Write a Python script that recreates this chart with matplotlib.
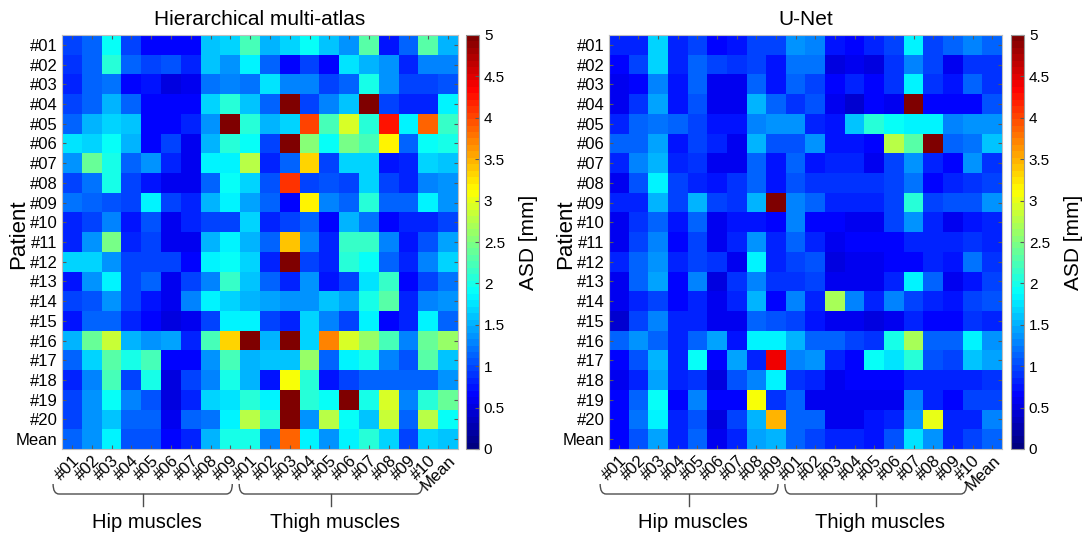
import numpy as np
import matplotlib
matplotlib.use('Agg')
import matplotlib.pyplot as plt
from matplotlib.colors import LinearSegmentedColormap
from matplotlib.path import Path
from matplotlib.patches import PathPatch
import matplotlib.transforms as mtransforms

plt.rcParams['font.family'] = ['Liberation Sans', 'DejaVu Sans']

# ---------------- data ----------------
patients = ['#%02d' % i for i in range(1, 21)] + ['Mean']
hip_muscles = ['#%02d' % i for i in range(1, 10)]
thigh_muscles = ['#%02d' % i for i in range(1, 11)]
muscle_labels = hip_muscles + thigh_muscles + ['Mean']

# ASD [mm], rows = patients #01..#20, Mean ; cols = hip #01..#09, thigh #01..#10, Mean
hma = [
    [1.00, 1.10, 1.95, 0.95, 0.70, 0.70, 0.70, 1.60, 1.65, 2.25, 1.55, 1.70, 1.95, 1.60, 1.35, 2.30, 0.75, 1.15, 2.30, 1.50],
    [0.90, 1.15, 2.10, 1.15, 1.00, 1.05, 0.80, 1.60, 1.40, 1.85, 1.15, 0.70, 1.00, 0.70, 1.75, 1.55, 1.35, 0.85, 1.25, 1.25],
    [0.80, 1.15, 1.20, 0.70, 0.75, 0.50, 0.55, 1.20, 1.30, 1.20, 1.75, 1.25, 1.25, 0.95, 1.15, 2.00, 1.40, 1.00, 1.00, 1.05],
    [0.95, 1.15, 1.50, 1.10, 0.70, 0.70, 0.70, 1.70, 2.05, 1.60, 1.10, 5.00, 0.95, 1.25, 1.60, 5.00, 0.95, 0.80, 0.85, 1.85],
    [1.10, 1.55, 1.70, 1.60, 0.70, 0.70, 0.80, 1.40, 5.00, 2.05, 1.50, 1.70, 4.05, 2.25, 2.90, 2.10, 4.25, 1.85, 3.85, 2.15],
    [1.75, 1.70, 1.90, 1.50, 0.70, 0.95, 0.60, 1.55, 2.05, 1.95, 0.95, 5.00, 2.50, 1.90, 2.45, 2.20, 3.20, 1.15, 1.90, 2.00],
    [1.40, 2.35, 2.00, 1.10, 1.40, 0.80, 0.62, 1.85, 1.85, 2.75, 0.80, 1.10, 3.30, 0.95, 1.65, 1.70, 0.75, 0.85, 1.70, 1.60],
    [1.00, 1.20, 2.00, 1.00, 0.75, 0.60, 0.60, 1.15, 1.95, 1.70, 1.05, 4.10, 1.00, 1.05, 0.95, 1.65, 1.00, 0.80, 1.30, 1.35],
    [1.20, 1.10, 1.05, 1.00, 1.85, 0.95, 0.85, 1.55, 1.80, 1.45, 1.15, 0.65, 3.15, 1.30, 1.15, 2.10, 1.10, 1.10, 1.80, 1.40],
    [0.85, 1.00, 1.30, 0.75, 1.05, 0.60, 0.80, 1.00, 1.00, 1.65, 0.80, 1.00, 1.15, 0.70, 1.55, 1.20, 0.65, 0.85, 0.80, 0.95],
    [0.80, 1.35, 2.45, 0.85, 1.00, 0.60, 0.60, 1.50, 1.80, 1.55, 1.10, 3.40, 1.30, 0.85, 2.15, 2.15, 1.30, 0.75, 1.05, 1.45],
    [1.70, 1.70, 1.40, 0.95, 1.00, 1.00, 0.70, 1.85, 1.90, 1.70, 0.85, 5.00, 0.95, 0.85, 2.05, 1.95, 1.10, 0.85, 1.25, 1.65],
    [0.75, 1.35, 1.80, 0.95, 1.10, 0.60, 1.00, 1.30, 2.15, 1.60, 1.10, 0.85, 1.40, 0.75, 1.00, 1.75, 2.15, 0.70, 1.00, 1.20],
    [0.95, 1.05, 1.35, 0.95, 0.75, 0.62, 1.25, 1.85, 1.70, 1.55, 1.45, 1.35, 1.40, 1.60, 1.45, 2.00, 2.30, 0.85, 1.30, 1.40],
    [0.75, 1.15, 1.15, 0.80, 0.70, 0.50, 0.55, 1.00, 1.85, 1.85, 1.00, 0.85, 1.70, 1.30, 1.00, 1.85, 0.70, 0.80, 1.85, 1.10],
    [1.55, 2.35, 2.85, 1.55, 1.35, 1.45, 0.85, 2.20, 3.35, 5.00, 1.55, 5.00, 1.70, 3.70, 2.90, 2.60, 2.20, 1.30, 2.40, 2.65],
    [1.15, 1.65, 2.30, 2.00, 2.20, 0.70, 0.70, 1.35, 2.20, 1.55, 1.60, 1.60, 2.65, 1.15, 1.80, 2.00, 1.30, 1.05, 2.30, 1.60],
    [0.85, 1.30, 2.20, 0.95, 2.00, 0.50, 0.95, 1.25, 2.00, 1.50, 0.75, 3.05, 2.10, 0.75, 0.95, 1.15, 1.15, 1.10, 1.10, 1.40],
    [0.95, 1.40, 1.95, 1.30, 1.05, 0.50, 0.85, 1.65, 1.75, 2.10, 1.80, 5.00, 2.05, 1.90, 5.00, 2.00, 2.90, 1.30, 2.10, 2.40],
    [0.95, 1.35, 1.60, 1.15, 1.15, 0.62, 1.15, 1.20, 1.80, 2.75, 2.10, 5.00, 1.35, 2.80, 1.90, 1.60, 2.85, 1.15, 2.75, 1.95],
    [1.15, 1.40, 1.80, 1.05, 1.05, 0.70, 0.80, 1.50, 2.00, 2.00, 1.25, 3.85, 1.85, 1.40, 1.85, 2.10, 1.70, 1.00, 1.70, 1.60],
]

unet = [
    [0.85, 0.85, 1.70, 0.80, 0.95, 0.70, 0.75, 1.00, 1.00, 1.35, 1.25, 0.75, 0.65, 0.85, 1.00, 1.85, 0.95, 1.10, 1.25, 1.10],
    [0.65, 0.95, 1.70, 0.80, 1.10, 0.95, 0.90, 0.95, 0.75, 1.20, 1.20, 0.50, 0.55, 0.50, 0.90, 1.25, 0.95, 0.60, 0.90, 0.90],
    [0.55, 0.65, 1.25, 0.75, 1.15, 0.60, 0.60, 1.10, 0.75, 1.10, 1.00, 0.70, 0.85, 0.70, 0.90, 1.80, 0.90, 0.75, 1.15, 0.90],
    [0.62, 0.90, 1.45, 0.75, 1.05, 0.60, 0.60, 1.55, 1.15, 0.90, 1.05, 0.62, 0.45, 0.70, 0.62, 5.00, 0.70, 0.70, 0.70, 1.05],
    [0.85, 1.10, 1.20, 1.10, 0.95, 0.75, 0.75, 1.30, 1.40, 1.40, 0.85, 0.75, 1.60, 2.05, 1.95, 1.85, 1.85, 1.25, 1.35, 1.35],
    [1.15, 1.15, 1.45, 0.75, 0.95, 0.80, 0.60, 1.55, 1.05, 1.05, 1.35, 0.75, 0.75, 0.70, 2.75, 2.30, 5.00, 1.15, 1.20, 1.60],
    [0.85, 1.30, 1.50, 0.80, 0.90, 0.60, 0.60, 1.15, 0.75, 1.15, 0.75, 0.80, 0.80, 0.60, 1.00, 1.35, 0.85, 0.70, 1.35, 0.90],
    [0.62, 1.05, 1.85, 0.95, 0.85, 0.75, 0.90, 1.15, 0.75, 1.05, 0.90, 0.90, 0.90, 0.90, 0.95, 1.20, 0.70, 0.80, 0.90, 0.95],
    [0.85, 0.85, 1.55, 0.95, 1.55, 0.95, 0.90, 1.55, 5.00, 1.25, 1.10, 0.80, 0.80, 0.80, 0.95, 2.10, 0.95, 1.05, 1.05, 1.35],
    [0.60, 0.90, 1.15, 0.75, 1.15, 0.55, 0.75, 0.75, 0.65, 1.30, 0.70, 0.70, 0.55, 0.62, 0.95, 1.40, 0.80, 0.58, 0.75, 0.80],
    [0.62, 1.00, 1.30, 0.65, 0.95, 0.55, 0.80, 1.35, 0.85, 1.10, 0.85, 0.55, 0.70, 0.70, 0.70, 0.80, 0.80, 0.80, 0.90, 0.85],
    [0.80, 1.10, 1.40, 0.85, 0.95, 0.90, 0.60, 1.80, 0.85, 1.00, 1.05, 0.50, 0.55, 0.62, 0.70, 0.70, 0.80, 0.75, 1.20, 0.90],
    [0.55, 1.10, 1.45, 0.65, 1.30, 0.50, 0.90, 1.30, 0.90, 0.90, 0.95, 0.55, 0.55, 0.62, 0.80, 1.80, 1.10, 0.55, 0.75, 0.95],
    [0.62, 0.80, 1.00, 0.70, 0.80, 0.58, 0.80, 1.55, 0.70, 1.25, 0.85, 2.70, 1.30, 0.80, 1.25, 1.00, 0.85, 0.75, 1.00, 1.05],
    [0.45, 0.95, 1.30, 0.85, 0.85, 0.55, 0.55, 1.10, 1.05, 0.95, 0.75, 0.55, 0.55, 0.50, 0.62, 0.80, 0.70, 0.70, 0.90, 0.80],
    [1.15, 1.35, 1.15, 0.85, 1.10, 1.45, 0.75, 1.85, 1.85, 1.50, 1.15, 1.10, 0.95, 0.90, 2.00, 2.70, 1.15, 1.15, 1.85, 1.40],
    [0.70, 1.05, 1.55, 0.85, 1.95, 0.65, 1.45, 0.85, 4.40, 1.25, 1.40, 0.80, 0.70, 1.90, 1.75, 2.05, 1.05, 1.00, 1.60, 1.45],
    [0.60, 0.85, 1.45, 0.85, 0.90, 0.50, 1.05, 1.30, 1.85, 0.90, 0.80, 0.55, 0.70, 0.70, 0.70, 0.85, 0.85, 0.85, 0.85, 0.90],
    [0.70, 1.10, 1.95, 0.70, 1.30, 0.70, 0.70, 3.05, 0.90, 1.10, 0.60, 0.60, 0.60, 0.60, 0.55, 1.25, 0.85, 0.70, 1.00, 1.00],
    [0.70, 1.20, 1.85, 0.80, 1.05, 0.50, 1.00, 1.50, 3.50, 1.15, 1.15, 0.55, 0.60, 0.75, 0.80, 1.40, 3.00, 0.85, 0.85, 1.25],
    [0.70, 1.05, 1.45, 0.80, 1.10, 0.62, 0.80, 1.45, 1.50, 1.10, 0.95, 0.80, 0.80, 0.75, 1.05, 1.75, 1.40, 0.80, 1.00, 1.10],
]

cbar_ticks = [0, 0.5, 1, 1.5, 2, 2.5, 3, 3.5, 4, 4.5, 5]
cbar_ticklabels = ['0', '0.5', '1', '1.5', '2', '2.5', '3', '3.5', '4', '4.5', '5']

# MATLAB-like jet colormap with 64 levels
jet_anchor = [(0.0, (0, 0, 0.5)), (0.125, (0, 0, 1)), (0.375, (0, 1, 1)),
              (0.625, (1, 1, 0)), (0.875, (1, 0, 0)), (1.0, (0.5, 0, 0))]
cmap = LinearSegmentedColormap.from_list('mjet', jet_anchor, N=64)

W, H = 1085, 534


def rect(x0, y0, x1, y1):
    return [x0 / W, 1 - y1 / H, (x1 - x0) / W, (y1 - y0) / H]


fig = plt.figure(figsize=(W / 100, H / 100), dpi=100)

panels = [
    ('Hierarchical multi-atlas', hma, (62, 35, 458, 449), (466, 35, 479, 449), -0.083),
    ('U-Net', unet, (609, 35, 1002, 449), (1011, 35, 1024, 449), -0.083),
]

n_hip = len(hip_muscles)
n_thigh = len(thigh_muscles)
label_shift = mtransforms.ScaledTranslation(4 / 100, 0, fig.dpi_scale_trans)

for title, data, axr, cbr, ylab_x in panels:
    ax = fig.add_axes(rect(*axr))
    im = ax.imshow(np.array(data), cmap=cmap, vmin=0, vmax=5, aspect='auto',
                   interpolation='nearest')
    ax.set_xticks(np.arange(len(muscle_labels)))
    ax.set_xticklabels(muscle_labels, rotation=45, ha='right', va='top',
                       rotation_mode='anchor', fontsize=12)
    for lbl in ax.get_xticklabels():
        lbl.set_transform(lbl.get_transform() + label_shift)
    ax.set_yticks(np.arange(len(patients)))
    ax.set_yticklabels(patients, fontsize=12)
    ax.tick_params(direction='in', length=3, top=True, right=True,
                   labeltop=False, labelright=False, color='0.35', pad=3)
    for sp in ax.spines.values():
        sp.set_edgecolor('0.75')
    ax.set_title(title, fontsize=15, pad=7)
    ax.set_ylabel('Patient', fontsize=16)
    ax.yaxis.set_label_coords(ylab_x, 0.52)

    cax = fig.add_axes(rect(*cbr))
    cb = fig.colorbar(im, cax=cax, ticks=cbar_ticks)
    cb.ax.set_yticklabels(cbar_ticklabels)
    cb.ax.tick_params(labelsize=11, direction='in', length=3, color='0.35')
    cb.outline.set_edgecolor('0.6')
    cb.set_label('ASD [mm]', fontsize=15, labelpad=10)

    # group braces below the x tick labels
    trans = mtransforms.blended_transform_factory(ax.transData, fig.transFigure)
    y_top, y_line, y_bot = 1 - 484 / H, 1 - 494 / H, 1 - 506 / H
    y_txt = 1 - 522 / H
    groups = [('Hip muscles', 0 - 0.95, n_hip - 1 + 0.1),
              ('Thigh muscles', n_hip - 0.55, n_hip + n_thigh - 1 - 0.3)]
    for name, x0, x1 in groups:
        r = 0.3
        verts = [(x0, y_top), (x0, y_line), (x0 + r, y_line),
                 (x1 - r, y_line), (x1, y_line), (x1, y_top)]
        codes = [Path.MOVETO, Path.CURVE3, Path.CURVE3,
                 Path.LINETO, Path.CURVE3, Path.CURVE3]
        ax.add_patch(PathPatch(Path(verts, codes), transform=trans, fill=False,
                               edgecolor='0.3', lw=1.0, clip_on=False))
        xm = (x0 + x1) / 2
        ax.add_line(plt.Line2D([xm, xm], [y_line, y_bot], transform=trans,
                               color='0.3', lw=1.0, clip_on=False))
        ax.text(xm + 0.2, y_txt, name, transform=trans, ha='center',
                va='center', fontsize=14.5)

fig.savefig('out.png', dpi=100)
